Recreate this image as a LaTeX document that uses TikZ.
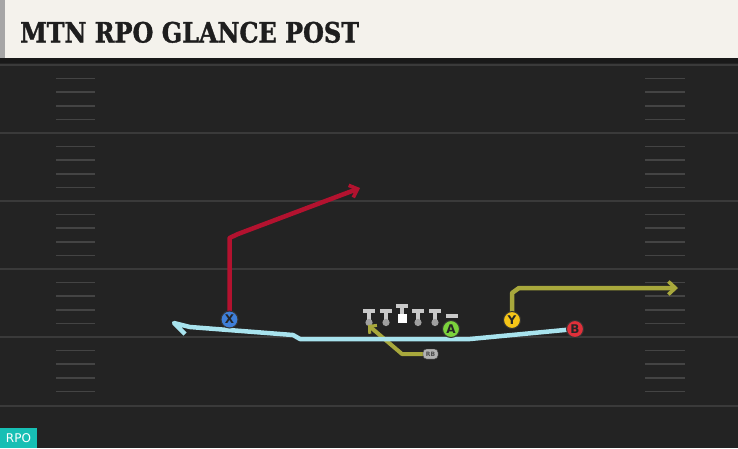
\documentclass[tikz,border=0pt]{standalone}
\usepackage{fontspec}
\setmainfont{DejaVu Sans}
\newfontfamily\titlefont[BoldFeatures={FakeBold=1.3}]{DejaVu Serif Condensed}
\usetikzlibrary{arrows.meta}
\definecolor{field}{HTML}{232323}
\definecolor{yardline}{HTML}{3A3A3A}
\definecolor{hashc}{HTML}{444444}
\definecolor{titlebg}{HTML}{F4F2EC}
\definecolor{titletx}{HTML}{1E1E1E}
\definecolor{routered}{HTML}{B3122F}
\definecolor{routeolive}{HTML}{A8A83C}
\definecolor{routecyan}{HTML}{A8E3EE}
\definecolor{pblue}{HTML}{3F7FD8}
\definecolor{pgreen}{HTML}{7BD23C}
\definecolor{pyellow}{HTML}{F5C518}
\definecolor{pred}{HTML}{E0303A}
\definecolor{linem}{HTML}{C9C9C9}
\definecolor{linej}{HTML}{A0A0A0}
\definecolor{rpoc}{HTML}{17BFB4}
\tikzset{
  player/.style={circle, draw=black!80, line width=1pt, minimum size=17pt, inner sep=0pt, font=\bfseries\fontsize{12}{12}\selectfont, text=black!85},
  rbbox/.style={draw=black!75, fill=black!30, rounded corners=3.5pt, minimum width=15pt, minimum height=10pt, inner sep=0pt, text=black!70, font=\bfseries\fontsize{6}{6}\selectfont},
  route/.style={line width=4.5pt, line join=round},
  yard/.style={draw=yardline, line width=1.8pt},
  hashmark/.style={draw=hashc, line width=1.6pt},
  tbar/.style={draw=linem, line width=4pt},
  tstem/.style={draw=linem, line width=3.6pt},
  barb/.style={-{Straight Barb[length=7pt,width=13pt,line width=3.6pt]}},
}
\begin{document}
\begin{tikzpicture}[x=1pt,y=-1pt]
\useasboundingbox (0,0) rectangle (738,448);
\fill[field] (0,0) rectangle (738,448);
% yard lines
\foreach \yy in {65,133,201,269,337,406} \draw[yard] (0,\yy) -- (738,\yy);
% hash marks
\foreach \yy in {65,133,201,269,337} {
  \foreach \k in {1,2,3,4} {
    \draw[hashmark] (56,\yy+13.6*\k) -- (95,\yy+13.6*\k);
    \draw[hashmark] (645,\yy+13.6*\k) -- (685,\yy+13.6*\k);
  }
}
% title bar
\fill[black!90] (0,58) rectangle (738,63);
\fill[titlebg] (0,0) rectangle (738,58);
\fill[black!35] (0,0) rectangle (5,58);
\node[anchor=base west, inner sep=0pt, text=titletx] (title) at (20,42.5) {\scalebox{0.95}[1]{\titlefont\bfseries\fontsize{28}{28}\selectfont MTN RPO GLANCE POST}};
% RPO tag
\fill[rpoc] (0,428) rectangle (37,448);
\node[text=white, font=\fontsize{12}{12}\selectfont, inner sep=0pt] (rpo) at (18.5,438.5) {RPO};
% offensive line
\foreach \xx in {369,386,418,435} {
  \draw[tstem] (\xx,312) -- (\xx,321);
  \draw[tbar] (\xx-6,311) -- (\xx+6,311);
  \fill[linej] (\xx,322.5) circle (3.6);
}
\draw[tstem] (402,307) -- (402,316);
\draw[tbar] (396,306) -- (408,306);
\fill[white] (397.5,314) rectangle (406.5,322.5);
\draw[tbar] (446,315.5) -- (458,315.5);
% coordinates for routes
\coordinate (xs) at (229.5,319.5);
\coordinate (xc) at (229.5,238);
\coordinate (xb) at (238,234);
\coordinate (xend) at (360,188);
\coordinate (ys) at (512,320);
\coordinate (yc) at (512,293);
\coordinate (yb) at (519,288);
\coordinate (yend) at (678,288);
\coordinate (rbs) at (430.5,354);
\coordinate (rbc) at (402,354);
\coordinate (rbend) at (368,325);
\coordinate (bs) at (575,329);
\coordinate (b1) at (470,339);
\coordinate (b2) at (300,339);
\coordinate (b3) at (293,335);
\coordinate (b4) at (190,327);
\coordinate (btip) at (174,323);
\coordinate (bhook) at (185,334);
% routes
\draw[route, routered, barb] (xs) -- (xc) -- (xb) -- (xend);
\draw[route, routeolive, barb] (ys) -- (yc) -- (yb) -- (yend);
\draw[route, routeolive, line width=4pt, -{Straight Barb[length=5pt,width=11pt,line width=3pt]}] (rbs) -- (rbc) -- (rbend);
\draw[route, routecyan] (bs) -- (b1) -- (b2) -- (b3) -- (b4) -- (btip) -- (bhook);
% players on top
\node[player, fill=pblue] (X) at (xs) {X};
\node[player, fill=pgreen] (A) at (451,329) {A};
\node[player, fill=pyellow] (Y) at (ys) {Y};
\node[player, fill=pred] (B) at (bs) {B};
\node[rbbox] (RB) at (rbs) {RB};
\end{tikzpicture}
\end{document}
